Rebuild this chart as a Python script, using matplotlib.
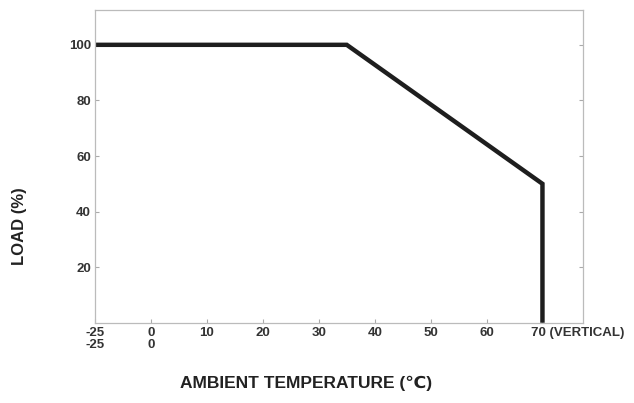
import matplotlib
matplotlib.use("Agg")
import matplotlib.pyplot as plt
import matplotlib.transforms as mtransforms

# derating curve
temperature = [-25, 35, 70, 70]
load = [100, 100, 50, 0]

x_ticks = [-25, 0, 10, 20, 30, 40, 50, 60, 70]
x_tick_labels = ['-25\n-25', '0\n0', '10', '20', '30', '40', '50', '60', '70 (VERTICAL)']
y_ticks = [20, 40, 60, 80, 100]


def axis_pos(t):
    # broken axis: the -25..0 stretch is squeezed to the width of 10 degrees
    return t * 10 / 25 if t < 0 else t


plt.rcParams['font.family'] = ['Liberation Sans', 'DejaVu Sans']

fig = plt.figure(figsize=(6.34, 4.03), dpi=100)
ax = fig.add_axes([0.150, 0.199, 0.770, 0.776])

ax.plot([axis_pos(t) for t in temperature], load, color='#1e1e1e', lw=3.2,
        solid_joinstyle='miter', solid_capstyle='butt')

ax.set_xlim(-10, 77.3)
ax.set_ylim(0, 112.5)
ax.set_xticks([axis_pos(t) for t in x_ticks])
ax.set_xticklabels(x_tick_labels, fontsize=9.5, fontweight='bold', color='#333333',
                   linespacing=1.0, va='top')
ax.set_yticks(y_ticks)
ax.set_yticklabels([str(v) for v in y_ticks], fontsize=9.5, fontweight='bold', color='#333333')

ax.tick_params(direction='in', length=3, color='#aaaaaa', width=0.8, right=True, pad=3)
for s in ax.spines.values():
    s.set_color('#bbbbbb')
    s.set_linewidth(0.9)

last = ax.get_xticklabels()[-1]
last.set_horizontalalignment('left')
last.set_transform(last.get_transform() + mtransforms.ScaledTranslation(-11 / 100, 0, fig.dpi_scale_trans))

ax.set_ylabel('LOAD (%)', fontsize=12, fontweight='bold', color='#222222')
ax.yaxis.set_label_coords(-0.155, 0.31)
ax.yaxis.label.set_verticalalignment('center')

ax.set_xlabel('AMBIENT TEMPERATURE (℃)', fontsize=12.5, fontweight='bold', color='#222222')
ax.xaxis.set_label_coords(0.432, -0.195)
ax.xaxis.label.set_verticalalignment('center')

fig.savefig('out.png', dpi=100, facecolor='white')
